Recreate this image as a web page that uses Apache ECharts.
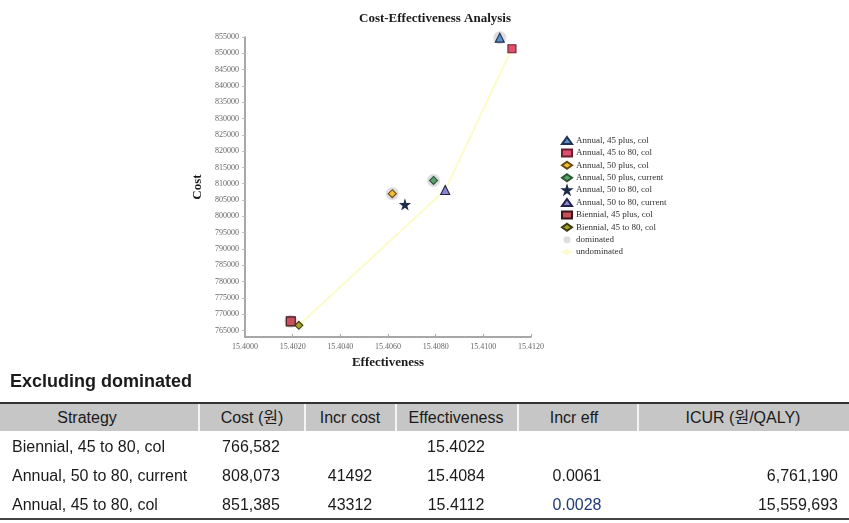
<!DOCTYPE html>
<html>
<head>
<meta charset="utf-8">
<script src="https://cdn.jsdelivr.net/npm/echarts@6/dist/echarts.min.js"></script>
<style>
  html, body { margin:0; padding:0; background:#fff; }
  #chart { position:absolute; left:0; top:0; width:849px; height:523px; }
  #tbl { position:absolute; left:0; top:0; width:849px; height:523px; font-family:"Liberation Sans", Arial, "Noto Sans CJK KR", sans-serif; color:#1a1a1a; }
  .t { position:absolute; white-space:nowrap; font-size:16px; line-height:20px; }
</style>
</head>
<body>
<div id="chart"></div>
<div id="tbl"></div>
<script>
// ---- chart data ----
const strategies = ["Annual, 45 plus, col", "Annual, 45 to 80, col", "Annual, 50 plus, col", "Annual, 50 plus, current", "Annual, 50 to 80, col", "Annual, 50 to 80, current", "Biennial, 45 plus, col", "Biennial, 45 to 80, col"];
const effectiveness = [15.41069, 15.4112, 15.40618, 15.40791, 15.40671, 15.4084, 15.40192, 15.40226];
const costs = [854800, 851385, 806950, 811000, 803600, 808073, 767800, 766582];
const dominatedNames = ["Annual, 45 plus, col", "Annual, 50 plus, col", "Annual, 50 plus, current", "Biennial, 45 plus, col"];
const frontierNames = ["Biennial, 45 to 80, col", "Annual, 50 to 80, current", "Annual, 45 to 80, col"];
const xTicks = [15.4000, 15.4020, 15.4040, 15.4060, 15.4080, 15.4100, 15.4120];
const yTicks = [765000, 770000, 775000, 780000, 785000, 790000, 795000, 800000, 805000, 810000, 815000, 820000, 825000, 830000, 835000, 840000, 845000, 850000, 855000];

// ---- table data ----
const tableTitle = "Excluding dominated";
const tableHeaders = ["Strategy", "Cost (원)", "Incr cost", "Effectiveness", "Incr eff", "ICUR (원/QALY)"];
const tableStrategy = ["Biennial, 45 to 80, col", "Annual, 50 to 80, current", "Annual, 45 to 80, col"];
const tableCost = ["766,582", "808,073", "851,385"];
const tableIncrCost = ["", "41492", "43312"];
const tableEff = ["15.4022", "15.4084", "15.4112"];
const tableIncrEff = ["", "0.0061", "0.0028"];
const tableIcur = ["", "6,761,190", "15,559,693"];

const starPath = 'path://M50,0 L61,35 L98,35 L68,57 L79,91 L50,70 L21,91 L32,57 L2,35 L39,35 Z';
const markerStyles = [
  { symbol: 'triangle', size: 9, color: '#5b8fc7', border: '#1e3350' },
  { symbol: 'rect', size: 8, color: '#e0506e', border: '#6a1f2c' },
  { symbol: 'diamond', size: 8, color: '#f2c12e', border: '#6b4a10' },
  { symbol: 'diamond', size: 8, color: '#5aa26a', border: '#2b5632' },
  { symbol: starPath, size: 9, color: '#1d2b48', border: '#1d2b48' },
  { symbol: 'triangle', size: 9, color: '#8a88d0', border: '#24224a' },
  { symbol: 'rect', size: 9, color: '#c8505a', border: '#3a1418' },
  { symbol: 'diamond', size: 8, color: '#a3a02a', border: '#3a3a10' }
];

const serif = '"Liberation Serif", "Times New Roman", serif';
const series = [];
const dominatedData = strategies.map((n, i) => dominatedNames.includes(n) ? [effectiveness[i], costs[i]] : null).filter(d => d);
const frontierData = frontierNames.map(n => { const i = strategies.indexOf(n); return [effectiveness[i], costs[i]]; });

strategies.forEach((n, i) => {
  const s = markerStyles[i];
  series.push({
    name: n, type: 'scatter', z: 5,
    symbol: s.symbol, symbolSize: s.size,
    itemStyle: { color: s.color, borderColor: s.border, borderWidth: 1.1, opacity: 1 },
    data: [[effectiveness[i], costs[i]]]
  });
});
series.push({
  name: 'dominated', type: 'scatter', z: 2, symbol: 'circle', symbolSize: 13,
  itemStyle: { color: '#bcbcc6', opacity: 0.5 },
  data: dominatedData
});
series.push({
  name: 'undominated', type: 'line', z: 1, showSymbol: false, symbol: 'none',
  lineStyle: { color: '#fcfccb', width: 2 },
  itemStyle: { color: '#fcfccb' },
  data: frontierData
});

const chart = echarts.init(document.getElementById('chart'), null, { renderer: 'canvas' });
chart.setOption({
  animation: false,
  backgroundColor: '#fff',
  title: {
    text: 'Cost-Effectiveness Analysis', left: 354, top: 7,
    textStyle: { fontFamily: serif, fontSize: 13, fontWeight: 'bold', color: '#1a1a1a' }
  },
  legend: {
    orient: 'vertical', left: 556, top: 131, itemGap: 3.4, itemWidth: 10, itemHeight: 7,
    data: strategies.concat(['dominated', 'undominated']),
    textStyle: { fontFamily: serif, fontSize: 9, color: '#333', padding: [0, 0, 0, -1] }
  },
  grid: { left: 245, right: 318, top: 37, bottom: 186, containLabel: false },
  xAxis: {
    type: 'value', min: xTicks[0], max: xTicks[xTicks.length - 1], interval: 0.002,
    name: 'Effectiveness', nameLocation: 'middle', nameGap: 15,
    nameTextStyle: { fontFamily: serif, fontSize: 13, fontWeight: 'bold', color: '#1a1a1a' },
    axisLine: { lineStyle: { color: '#8a8a8a', width: 1.5 } },
    axisTick: { show: true, inside: true, length: 3, lineStyle: { color: '#aaa' } },
    splitLine: { show: false },
    axisLabel: { fontFamily: serif, fontSize: 8, color: '#666', margin: 6, formatter: v => v.toFixed(4) }
  },
  yAxis: {
    type: 'value', min: 763000, max: yTicks[yTicks.length - 1],
    name: 'Cost', nameLocation: 'middle', nameGap: 41, nameRotate: 90,
    nameTextStyle: { fontFamily: serif, fontSize: 13, fontWeight: 'bold', color: '#1a1a1a' },
    axisLine: { show: true, lineStyle: { color: '#8a8a8a', width: 1.5 } },
    axisTick: { show: true, length: 3, customValues: yTicks, lineStyle: { color: '#bbb' } },
    splitLine: { show: false },
    axisLabel: { fontFamily: serif, fontSize: 8, color: '#666', margin: 6, customValues: yTicks, formatter: v => String(v) }
  },
  series: series
});

// ---- table ----
const tbl = document.getElementById('tbl');
function add(html) { tbl.insertAdjacentHTML('beforeend', html); }
add('<div class="t" style="left:10px;top:369px;font-size:18px;font-weight:bold;line-height:24px;">' + tableTitle + '</div>');
add('<div style="position:absolute;left:0;top:402px;width:849px;height:2px;background:#333"></div>');
add('<div style="position:absolute;left:0;top:404px;width:849px;height:27px;background:#c6c6c6"></div>');
const colEdges = [0, 199, 305, 396, 518, 638, 849];
for (let k = 1; k < colEdges.length - 1; k++) {
  add('<div style="position:absolute;left:' + (colEdges[k] - 1) + 'px;top:404px;width:2px;height:27px;background:#f4f4f4"></div>');
}
const headerCenters = [87, 252, 350, 456, 574, 743];
tableHeaders.forEach((h, k) => {
  add('<div class="t" style="left:' + (headerCenters[k] - 100) + 'px;width:200px;text-align:center;top:408px;">' + h + '</div>');
});
const rowY = [437, 466, 495];
rowY.forEach((y, r) => {
  add('<div class="t" style="left:12px;top:' + y + 'px;">' + tableStrategy[r] + '</div>');
  add('<div class="t" style="left:151px;width:200px;text-align:center;top:' + y + 'px;">' + tableCost[r] + '</div>');
  add('<div class="t" style="left:250px;width:200px;text-align:center;top:' + y + 'px;">' + tableIncrCost[r] + '</div>');
  add('<div class="t" style="left:356px;width:200px;text-align:center;top:' + y + 'px;">' + tableEff[r] + '</div>');
  add('<div class="t" style="left:477px;width:200px;text-align:center;top:' + y + 'px;color:' + (r === 2 ? '#1f3a78' : '#1a1a1a') + '">' + tableIncrEff[r] + '</div>');
  add('<div class="t" style="left:538px;width:300px;text-align:right;top:' + y + 'px;">' + tableIcur[r] + '</div>');
});
add('<div style="position:absolute;left:0;top:518px;width:849px;height:2px;background:#444"></div>');
</script>
</body>
</html>
